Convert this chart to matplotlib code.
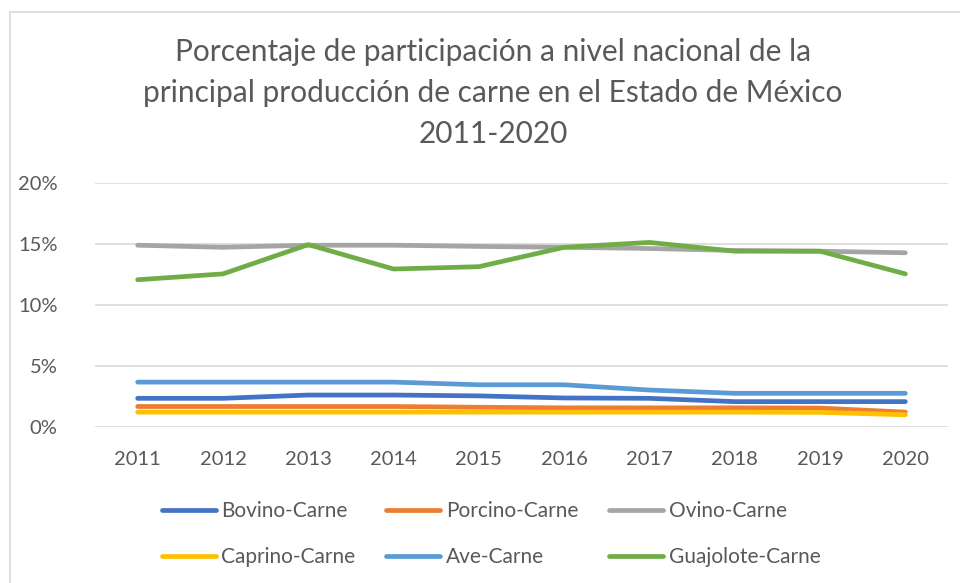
import matplotlib
matplotlib.use("Agg")
import matplotlib.pyplot as plt
from matplotlib.patches import Rectangle
from matplotlib.ticker import FuncFormatter

years = ["2011", "2012", "2013", "2014", "2015", "2016", "2017", "2018", "2019", "2020"]
bovino = [2.35, 2.35, 2.62, 2.62, 2.55, 2.38, 2.35, 2.08, 2.08, 2.08]
porcino = [1.68, 1.68, 1.68, 1.68, 1.62, 1.57, 1.57, 1.57, 1.55, 1.22]
ovino = [14.9, 14.73, 14.9, 14.9, 14.8, 14.73, 14.63, 14.47, 14.41, 14.28]
caprino = [1.22, 1.22, 1.22, 1.22, 1.22, 1.22, 1.22, 1.22, 1.2, 1.0]
ave = [3.68, 3.68, 3.68, 3.68, 3.46, 3.46, 3.03, 2.76, 2.76, 2.76]
guajolote = [12.07, 12.55, 14.95, 12.95, 13.14, 14.73, 15.13, 14.41, 14.41, 12.55]

series = [
    ("Bovino-Carne", bovino, "#4472C4"),
    ("Porcino-Carne", porcino, "#ED7D31"),
    ("Ovino-Carne", ovino, "#A5A5A5"),
    ("Caprino-Carne", caprino, "#FFC000"),
    ("Ave-Carne", ave, "#5B9BD5"),
    ("Guajolote-Carne", guajolote, "#70AD47"),
]

plt.rcParams['font.family'] = ['Lato', 'DejaVu Sans']
txt = "#595959"

fig = plt.figure(figsize=(9.6, 5.83), dpi=100)
fig.patches.append(Rectangle((10 / 960, -0.1), 1.2, (583 - 12) / 583 + 0.1,
                             transform=fig.transFigure, fill=False,
                             edgecolor="#D9D9D9", linewidth=1.2))

ax = fig.add_axes([95 / 960, 1 - 427 / 583, (948 - 95) / 960, (427 - 183) / 583])
x = list(range(len(years)))
handles = {}
for name, vals, col in series:
    h, = ax.plot(x, vals, color=col, linewidth=3.4, solid_capstyle="round",
                 solid_joinstyle="round", label=name)
    handles[name] = h

ax.set_xlim(-0.5, len(years) - 0.5)
ax.set_ylim(0, 20)
ax.set_yticks([0, 5, 10, 15, 20])
ax.yaxis.set_major_formatter(FuncFormatter(lambda v, p: f"{int(v)}%"))
ax.set_xticks(x)
ax.set_xticklabels(years)
ax.grid(axis="y", color="#D9D9D9", linewidth=1.2)
ax.set_axisbelow(True)
for s in ax.spines.values():
    s.set_visible(False)
ax.tick_params(axis="both", length=0, labelsize=14.5, colors=txt)
ax.tick_params(axis="x", pad=17)
ax.tick_params(axis="y", pad=27)

fig.text(493 / 960, 1 - 93 / 583,
         "Porcentaje de participación a nivel nacional de la\nprincipal producción de carne en el Estado de México\n2011-2020",
         ha="center", va="center", fontsize=21.5, color=txt, linespacing=1.55)

order = ["Bovino-Carne", "Caprino-Carne", "Porcino-Carne", "Ave-Carne", "Ovino-Carne", "Guajolote-Carne"]
leg = fig.legend([handles[n] for n in order], order, ncol=3, loc="center",
                 bbox_to_anchor=(491 / 960, 1 - 534 / 583), frameon=False,
                 fontsize=15, handlelength=2.6, handletextpad=0.25,
                 columnspacing=1.5, labelspacing=1.25, labelcolor=txt)

fig.savefig("out.png", dpi=100)
